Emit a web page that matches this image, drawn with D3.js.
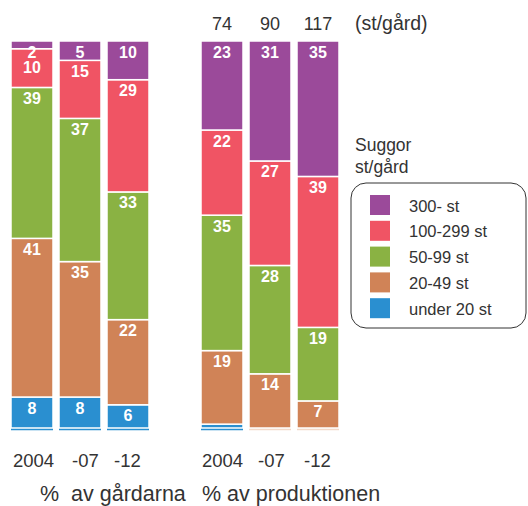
<!DOCTYPE html>
<html><head><meta charset="utf-8">
<script src="https://cdn.jsdelivr.net/npm/d3@7"></script>
<style>body{margin:0;background:#fff}svg{display:block;font-family:"Liberation Sans",Arial,sans-serif}</style>
</head><body><svg id="c" width="528" height="506"></svg>
<script>
const years = ["2004", "-07", "-12"];
const groups = ["%  av gårdarna", "% av produktionen"];
const categories = ["under 20 st", "20-49 st", "50-99 st", "100-299 st", "300- st"];
const colors = ["#2a8fd0", "#d08357", "#8ab243", "#f05464", "#9b4a9a"];
// % av gårdarna, per category, per year
const farmsUnder20 = [8, 8, 6];
const farms20_49 = [41, 35, 22];
const farms50_99 = [39, 37, 33];
const farms100_299 = [10, 15, 29];
const farms300 = [2, 5, 10];
// % av produktionen
const prodUnder20 = [1, 0, 0];
const prod20_49 = [19, 14, 7];
const prod50_99 = [35, 28, 19];
const prod100_299 = [22, 27, 39];
const prod300 = [23, 31, 35];
const sowsPerFarm = [74, 90, 117];

const series = [
  [farmsUnder20, farms20_49, farms50_99, farms100_299, farms300],
  [prodUnder20, prod20_49, prod50_99, prod100_299, prod300]
];

const svg = d3.select("#c");
const y = d3.scaleLinear().domain([0, 100]).range([428, 41]);
const groupX = d3.scaleOrdinal().domain([0, 1]).range([11, 201]);
const x = d3.scaleBand().domain(years).range([0, 138]).paddingInner(0.125).paddingOuter(0);
const yearLabelX = [[13, 72, 114], [202, 258, 304]];

series.forEach((ser, gi) => {
  const g = svg.append("g").attr("transform", `translate(${groupX(gi)},0)`);
  years.forEach((yr, yi) => {
    let cum = 0;
    const segs = ser.map((arr, ci) => {
      const v = arr[yi];
      const s = { ci, v, y0: cum, y1: cum + v };
      cum += v;
      return s;
    });
    segs.forEach(s => {
      if (s.v <= 0) return;
      g.append("rect")
        .attr("x", x(yr)).attr("width", x.bandwidth())
        .attr("y", y(s.y1)).attr("height", y(s.y0) - y(s.y1))
        .attr("fill", colors[s.ci]).attr("stroke", "#fff").attr("stroke-width", 1.5);
    });
    let prev = -Infinity;
    segs.slice().reverse().forEach(s => {
      if (s.v < 2) return;
      const base = Math.max(y(s.y1) + 16.5, prev + 15);
      prev = base;
      g.append("text")
        .attr("x", x(yr) + x.bandwidth() / 2).attr("y", base)
        .attr("text-anchor", "middle").attr("fill", "#fff")
        .attr("font-weight", "bold").attr("font-size", 16)
        .text(s.v);
    });
    g.append("line").attr("x1", x(yr)).attr("x2", x(yr) + x.bandwidth())
      .attr("y1", y(0) + 1.5).attr("y2", y(0) + 1.5)
      .attr("stroke", ser[0][yi] > 0 ? colors[0] : "#f3d9c9").attr("stroke-width", 1.5);
  });
  years.forEach((yr, yi) => {
    svg.append("text").attr("x", yearLabelX[gi][yi]).attr("y", 467)
      .attr("font-size", 18.5).attr("fill", "#333").text(yr);
  });
});

const gr = svg.append("g").attr("transform", `translate(${groupX(1)},0)`);
sowsPerFarm.forEach((v, i) => {
  gr.append("text").attr("x", x(years[i]) + x.bandwidth() / 2).attr("y", 30)
    .attr("text-anchor", "middle").attr("font-size", 18).attr("fill", "#333").text(v);
});
svg.append("text").attr("x", 355).attr("y", 30).attr("font-size", 19.5).attr("fill", "#333").text("(st/gård)");

svg.append("text").attr("x", 40).attr("y", 501).attr("font-size", 21.5).attr("fill", "#333")
  .attr("xml:space", "preserve").style("white-space", "pre").text(groups[0]);
svg.append("text").attr("x", 202).attr("y", 501).attr("font-size", 21.5).attr("fill", "#333").text(groups[1]);

svg.append("text").attr("x", 355).attr("y", 151).attr("font-size", 17.5).attr("fill", "#333").text("Suggor");
svg.append("text").attr("x", 355).attr("y", 173).attr("font-size", 17.5).attr("fill", "#333").text("st/gård");
svg.append("rect").attr("x", 351).attr("y", 183).attr("width", 175).attr("height", 145)
  .attr("rx", 15).attr("fill", "#fff").attr("stroke", "#333").attr("stroke-width", 1);
const legendOrder = [4, 3, 2, 1, 0];
legendOrder.forEach((ci, i) => {
  const ly = 195 + i * 25.8;
  svg.append("rect").attr("x", 370).attr("y", ly).attr("width", 20).attr("height", 20).attr("fill", colors[ci]);
  svg.append("text").attr("x", 409).attr("y", ly + 16.5).attr("font-size", 16.5).attr("fill", "#333").text(categories[ci]);
});
</script></body></html>
